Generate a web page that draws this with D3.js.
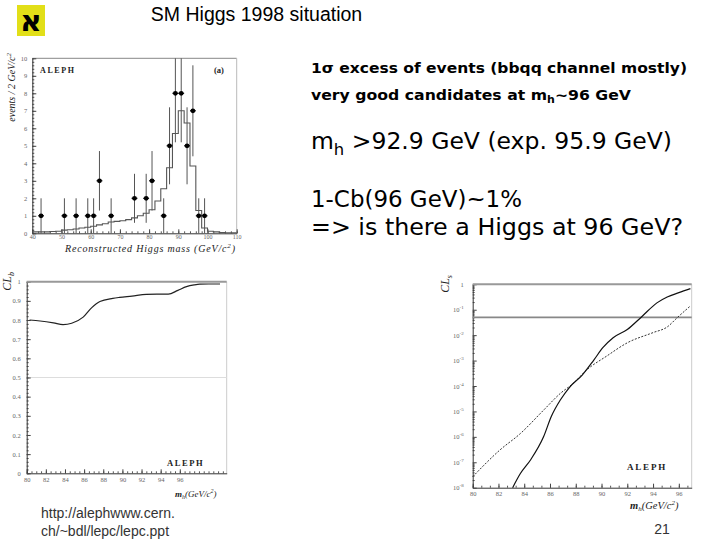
<!DOCTYPE html>
<html><head><meta charset="utf-8">
<script src="https://cdn.jsdelivr.net/npm/d3@7"></script>
<style>body{margin:0;background:#fff}svg{display:block}</style>
</head><body>
<svg id="c" width="720" height="540"></svg>
<script>
// ---------- DATA ----------
const histEdges = [40,42,44,46,48,50,52,54,56,58,60,62,64,66,68,70,72,74,76,78,80,82,84,86,88,90,92,94,96,98,100,102,104,106,108,110];
const histBackground = [0.08,0.08,0.08,0.1,0.12,0.18,0.2,0.25,0.3,0.35,0.4,0.48,0.55,0.65,0.68,0.72,0.78,0.88,1.0,1.15,1.35,1.85,2.55,3.75,5.7,7.0,6.3,3.85,1.3,0.3,0.12,0.08,0.05,0.03,0.03];
const dataMass   = [43,51,55,59,61,63,67,75,79,81,85,87,89,91,93,95,97,99];
const dataEvents = [1,1,1,1,1,3,1,2,2,3,1,5,8,8,5,7,1,1];
const dataErr    = [1,1,1,1,1,1.7,1,1.4,1.4,1.7,1,2.2,2.8,2.8,2.2,2.6,1,1];
const histXTicks = [40,50,60,70,80,90,100,110];
const histYTicks = [0,1,2,3,4,5,6,7,8,9,10];

const clbMass  = [80.3,81.4,82.8,83.8,84.7,85.9,86.8,87.65,89.0,89.7,91.0,92.5,93.6,94.8,95.8,96.7,97.5,98.1,99.0,100.2];
const clbValue = [0.800,0.795,0.785,0.776,0.783,0.815,0.865,0.897,0.913,0.918,0.925,0.934,0.935,0.935,0.955,0.974,0.983,0.987,0.988,0.988];
const clbXTicks = [80,82,84,86,88,90,92,94,96];
const clbYTicks = [0,0.1,0.2,0.3,0.4,0.5,0.6,0.7,0.8,0.9,1];
const clbReference = 0.5;

const clsObsMass = [83.1,83.7,84.5,85.5,86.1,86.8,87.5,88.5,89.4,90.1,90.9,92.0,93.1,94.3,95.1,96.0,96.9];
const clsObserved = [1e-8,3.6e-8,1.26e-7,1e-6,6.3e-6,2.8e-5,8.7e-5,2.7e-4,1.05e-3,3.2e-3,7.9e-3,1.66e-2,5.2e-2,0.186,0.316,0.468,0.676];
const clsExpMass = [80.0,82.1,83.7,85.5,86.8,87.8,88.85,90.4,92.0,94.0,95.1,95.9,96.9];
const clsExpected = [2.7e-8,3.0e-7,1.35e-6,1.12e-5,5.1e-5,1.26e-4,4.3e-4,1.5e-3,5.0e-3,1.26e-2,2.1e-2,5.0e-2,0.141];
const clsXTicks = [80,82,84,86,88,90,92,94,96];
const clsYTicks = [1e-8,1e-7,1e-6,1e-5,1e-4,1e-3,1e-2,1e-1,1];
const clsYExponents = [-8,-7,-6,-5,-4,-3,-2,-1,0];
const clsLimit = 0.05;

// ---------- DRAW ----------
const svg = d3.select('#c');
const TICKFONT = 'Liberation Serif';

function styleAxis(g, size){
  g.select('.domain').attr('stroke','#333').attr('stroke-width',1);
  g.selectAll('.tick line').attr('stroke','#444');
  g.selectAll('.tick text').attr('font-family',TICKFONT).attr('font-size',size).attr('fill','#666');
}
function minorAxis(axisFn, scale, vals, len, tr){
  const g = svg.append('g').attr('transform',tr).call(axisFn(scale).tickValues(vals).tickSize(-len).tickSizeOuter(0).tickFormat(''));
  g.select('.domain').remove();
  g.selectAll('.tick line').attr('stroke','#555');
}

// header
svg.append('rect').attr('x',17).attr('y',5).attr('width',28).attr('height',31).attr('fill','#e2df18');
svg.append('text').attr('x',31).attr('y',31).attr('text-anchor','middle')
  .attr('font-family','DejaVu Sans').attr('font-weight','bold').attr('font-size',30).attr('fill','#000').text('א');
svg.append('text').attr('x',256.5).attr('y',20.5).attr('text-anchor','middle')
  .attr('font-family','Liberation Sans, Arial').attr('font-size',19.5).attr('fill','#000').text('SM Higgs 1998 situation');

// ---------- Chart A: histogram ----------
(function(){
  const L=32.3,R=236.7,T=58.3,B=233.3;
  const x = d3.scaleLinear().domain([40,110]).range([L,R]);
  const y = d3.scaleLinear().domain([0,10]).range([B,T]);
  svg.append('line').attr('x1',L).attr('x2',R).attr('y1',T).attr('y2',T).attr('stroke','#888').attr('stroke-width',1);
  svg.append('line').attr('x1',R).attr('x2',R).attr('y1',T).attr('y2',B).attr('stroke','#bbb').attr('stroke-width',1);
  minorAxis(d3.axisBottom, x, d3.range(40,111,2), 2, `translate(0,${B})`);
  minorAxis(d3.axisLeft, y, d3.range(0,10.01,0.2), 2, `translate(${L},0)`);
  const gx = svg.append('g').attr('transform',`translate(0,${B})`)
    .call(d3.axisBottom(x).tickValues(histXTicks).tickSize(-4).tickSizeOuter(0).tickPadding(1.5));
  styleAxis(gx,6);
  const gy = svg.append('g').attr('transform',`translate(${L},0)`)
    .call(d3.axisLeft(y).tickValues(histYTicks).tickSize(-4).tickSizeOuter(0).tickPadding(5));
  styleAxis(gy,6.5);
  const steps = histEdges.map((e,i)=>({m:e, v: histBackground[Math.min(i,histBackground.length-1)]}));
  svg.append('path').datum(steps)
    .attr('d', d3.line().x(d=>x(d.m)).y(d=>y(d.v)).curve(d3.curveStepAfter))
    .attr('fill','none').attr('stroke','#555').attr('stroke-width',1.1);
  const pts = dataMass.map((m,i)=>({m, n:dataEvents[i], e:dataErr[i]}));
  const g = svg.append('g');
  g.selectAll('line.err').data(pts).join('line').attr('class','err')
    .attr('x1',d=>x(d.m)).attr('x2',d=>x(d.m))
    .attr('y1',d=>y(Math.max(0,d.n-d.e))).attr('y2',d=>y(Math.min(10,d.n+d.e)))
    .attr('stroke','#555').attr('stroke-width',1);
  g.selectAll('line.xerr').data(pts).join('line').attr('class','xerr')
    .attr('x1',d=>x(d.m-1)).attr('x2',d=>x(d.m+1))
    .attr('y1',d=>y(d.n)).attr('y2',d=>y(d.n))
    .attr('stroke','#111').attr('stroke-width',1.2);
  g.selectAll('circle').data(pts).join('circle')
    .attr('cx',d=>x(d.m)).attr('cy',d=>y(d.n)).attr('r',2.4).attr('fill','#000');
  svg.append('text').attr('x',40).attr('y',73).attr('font-family','Liberation Serif').attr('font-weight','bold')
    .attr('font-size',8).attr('letter-spacing',1.6).attr('fill','#222').text('ALEPH');
  svg.append('text').attr('x',214).attr('y',73).attr('font-family','Liberation Serif').attr('font-weight','bold')
    .attr('font-size',8.5).attr('fill','#222').text('(a)');
  const yl = svg.append('text').attr('transform','translate(15,53) rotate(-90)').attr('text-anchor','end')
    .attr('font-family','Liberation Serif').attr('font-style','italic').attr('font-size',10).attr('fill','#222');
  yl.append('tspan').text('events / 2 GeV/c');
  yl.append('tspan').attr('dy',-4).attr('font-size',7).text('2');
  const xl = svg.append('text').attr('x',65).attr('y',251.5).attr('textLength',170).attr('lengthAdjust','spacing')
    .attr('font-family','Liberation Serif').attr('font-style','italic').attr('font-size',10).attr('fill','#222');
  xl.append('tspan').text('Reconstructed Higgs mass (GeV/c');
  xl.append('tspan').attr('dy',-4).attr('font-size',7).text('2');
  xl.append('tspan').attr('dy',4).text(')');
})();

// ---------- Chart B: CLb ----------
(function(){
  const L=26.7,R=226.7,T=281.7,B=473.3;
  const x = d3.scaleLinear().domain([80,100.9]).range([L,R]);
  const y = d3.scaleLinear().domain([0,1]).range([B,T]);
  svg.append('line').attr('x1',R).attr('x2',R).attr('y1',T).attr('y2',B).attr('stroke','#ccc').attr('stroke-width',1);
  svg.append('line').attr('x1',L).attr('x2',R).attr('y1',y(clbReference)).attr('y2',y(clbReference)).attr('stroke','#ddd').attr('stroke-width',1);
  minorAxis(d3.axisBottom, x, d3.range(80,100.8,0.5), 2, `translate(0,${B})`);
  minorAxis(d3.axisLeft, y, d3.range(0,1.001,0.02), 2, `translate(${L},0)`);
  const gx = svg.append('g').attr('transform',`translate(0,${B})`)
    .call(d3.axisBottom(x).tickValues(clbXTicks).tickSize(-4).tickSizeOuter(0).tickPadding(4));
  styleAxis(gx,6.5);
  const gy = svg.append('g').attr('transform',`translate(${L},0)`)
    .call(d3.axisLeft(y).tickValues(clbYTicks).tickSize(-4).tickSizeOuter(0).tickPadding(6)
      .tickFormat(d=> d===0?'0':(d===1?'1':d3.format('.1f')(d))));
  styleAxis(gy,6.5);
  svg.append('line').attr('x1',L).attr('x2',R).attr('y1',T).attr('y2',T).attr('stroke','#999').attr('stroke-width',2);
  const pts = clbMass.map((m,i)=>({m,v:clbValue[i]}));
  svg.append('path').datum(pts).attr('d',d3.line().x(d=>x(d.m)).y(d=>y(d.v)).curve(d3.curveMonotoneX))
    .attr('fill','none').attr('stroke','#222').attr('stroke-width',1.2);
  svg.append('text').attr('x',167).attr('y',466).attr('font-family','Liberation Serif').attr('font-weight','bold')
    .attr('font-size',8.5).attr('letter-spacing',1.6).attr('fill','#222').text('ALEPH');
  const yl = svg.append('text').attr('transform','translate(11,272) rotate(-90)').attr('text-anchor','end')
    .attr('font-family','Liberation Serif').attr('font-style','italic').attr('font-size',12).attr('fill','#222');
  yl.append('tspan').text('CL');
  yl.append('tspan').attr('dy',3).attr('font-size',8).text('b');
  const xl = svg.append('text').attr('x',175).attr('y',497)
    .attr('font-family','Liberation Serif').attr('font-style','italic').attr('font-size',9).attr('fill','#222');
  xl.append('tspan').attr('font-weight','bold').text('m');
  xl.append('tspan').attr('dy',2).attr('font-size',6).text('h');
  xl.append('tspan').attr('dy',-2).text('(GeV/c');
  xl.append('tspan').attr('dy',-4).attr('font-size',6).text('2');
  xl.append('tspan').attr('dy',4).text(')');
})();

// ---------- Chart C: CLs ----------
(function(){
  const L=472.7,R=691.7,T=284.3,B=487.7;
  const x = d3.scaleLinear().domain([80,97]).range([L,R]);
  const y = d3.scaleLog().domain([1e-8,1]).range([B,T]);
  svg.append('line').attr('x1',R).attr('x2',R).attr('y1',T).attr('y2',B).attr('stroke','#ccc').attr('stroke-width',1);
  const xm = d3.range(0,26).map(k=>80+k*2/3).filter(v=>v<=97);
  minorAxis(d3.axisBottom, x, xm, 2, `translate(0,${B})`);
  const ym = [];
  clsYExponents.slice(0,-1).forEach(e=>{ for(let k=2;k<=9;k++) ym.push(k*Math.pow(10,e)); });
  minorAxis(d3.axisLeft, y, ym, 2, `translate(${L},0)`);
  const gx = svg.append('g').attr('transform',`translate(0,${B})`)
    .call(d3.axisBottom(x).tickValues(clsXTicks).tickSize(-4).tickSizeOuter(0).tickPadding(4));
  styleAxis(gx,6.5);
  const gy = svg.append('g').attr('transform',`translate(${L},0)`)
    .call(d3.axisLeft(y).tickValues(clsYTicks).tickSize(-4).tickSizeOuter(0).tickPadding(9).tickFormat(''));
  styleAxis(gy,6.5);
  gy.selectAll('.tick').each(function(d,i){
    const t = d3.select(this).select('text').text(null);
    const ex = clsYExponents[i];
    if(ex===0){ t.text('1'); }
    else { t.append('tspan').text('10'); t.append('tspan').attr('dy',-3).attr('font-size',5).text(String(ex)); }
  });
  svg.append('line').attr('x1',L).attr('x2',R).attr('y1',T).attr('y2',T).attr('stroke','#999').attr('stroke-width',2);
  svg.append('line').attr('x1',L).attr('x2',R).attr('y1',y(clsLimit)).attr('y2',y(clsLimit)).attr('stroke','#888').attr('stroke-width',1.6);
  const line = d3.line().x(d=>x(d.m)).y(d=>y(d.v)).curve(d3.curveMonotoneX);
  svg.append('path').datum(clsExpMass.map((m,i)=>({m,v:clsExpected[i]}))).attr('d',line)
    .attr('fill','none').attr('stroke','#333').attr('stroke-width',1).attr('stroke-dasharray','2,1.5');
  svg.append('path').datum(clsObsMass.map((m,i)=>({m,v:clsObserved[i]}))).attr('d',line)
    .attr('fill','none').attr('stroke','#111').attr('stroke-width',1.2);
  svg.append('text').attr('x',627).attr('y',470).attr('font-family','Liberation Serif').attr('font-weight','bold')
    .attr('font-size',9).attr('letter-spacing',1.8).attr('fill','#222').text('ALEPH');
  const yl = svg.append('text').attr('transform','translate(449,275) rotate(-90)').attr('text-anchor','end')
    .attr('font-family','Liberation Serif').attr('font-style','italic').attr('font-size',12).attr('fill','#222');
  yl.append('tspan').text('CL');
  yl.append('tspan').attr('dy',3).attr('font-size',8).text('s');
  const xl = svg.append('text').attr('x',630).attr('y',509)
    .attr('font-family','Liberation Serif').attr('font-style','italic').attr('font-size',10.5).attr('fill','#222');
  xl.append('tspan').attr('font-weight','bold').text('m');
  xl.append('tspan').attr('dy',2).attr('font-size',7).text('h');
  xl.append('tspan').attr('dy',-2).text('(GeV/c');
  xl.append('tspan').attr('dy',-4).attr('font-size',7).text('2');
  xl.append('tspan').attr('dy',4).text(')');
})();

// ---------- right-hand text ----------
const FONT = "'Comic Sans MS', 'DejaVu Sans', sans-serif";
function textLine(xp, yp, size, weight, len, parts){
  const t = svg.append('text').attr('x',xp).attr('y',yp).attr('font-family',FONT).attr('font-size',size)
    .attr('font-weight',weight).attr('fill','#000').attr('textLength',len).attr('lengthAdjust','spacingAndGlyphs');
  parts.forEach(p=>{
    const s = t.append('tspan').text(p.t);
    if(p.sub){ s.attr('dy',size*0.28).attr('font-size',size*0.7); }
    if(p.back){ s.attr('dy',-size*0.28); }
  });
}
textLine(311,73,14,'bold',376,[{t:'1σ excess of events (bbqq channel mostly)'}]);
textLine(311,99.5,14,'bold',320,[{t:'very good candidates at m'},{t:'h',sub:true},{t:'~96 GeV',back:true}]);
textLine(311,149,23,'normal',361,[{t:'m'},{t:'h',sub:true},{t:' >92.9 GeV (exp. 95.9 GeV)',back:true}]);
textLine(311,206.5,23,'normal',211,[{t:'1-Cb(96 GeV)~1%'}]);
textLine(311,235,23,'normal',372,[{t:'=> is there a Higgs at 96 GeV?'}]);

// footer
svg.append('text').attr('x',41).attr('y',518).attr('font-family','Liberation Sans, Arial').attr('font-size',14).attr('fill','#333').text('http://alephwww.cern.');
svg.append('text').attr('x',41).attr('y',536).attr('font-family','Liberation Sans, Arial').attr('font-size',14).attr('fill','#333').text('ch/~bdl/lepc/lepc.ppt');
svg.append('text').attr('x',662).attr('y',534).attr('text-anchor','middle').attr('font-family','Liberation Sans, Arial').attr('font-size',14).attr('fill','#333').text('21');
</script>
</body></html>
